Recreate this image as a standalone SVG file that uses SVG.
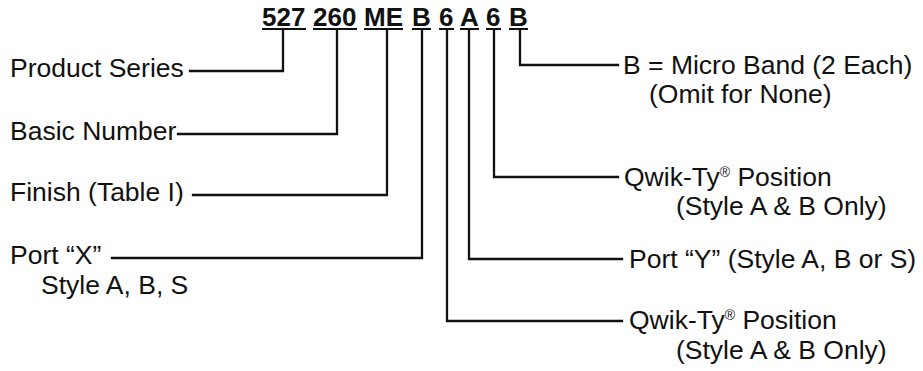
<svg xmlns="http://www.w3.org/2000/svg" width="923" height="371" viewBox="0 0 923 371">
<style>
.lbl{font-family:"Liberation Sans",Arial,sans-serif;font-size:26.5px;fill:#111}
.code{font-family:"Liberation Sans",Arial,sans-serif;font-size:26px;font-weight:bold;fill:#111}
.ln{fill:none;stroke:#111;stroke-width:2.3;stroke-linecap:square}
.ul{stroke:#111;stroke-width:2}
.sup{font-size:14px}
</style>
<rect width="923" height="371" fill="#fff"/>
<g id="code">
<text class="code" x="262" y="26">527</text>
<text class="code" x="313" y="26">260</text>
<text class="code" x="364" y="26">ME</text>
<text class="code" x="412" y="26">B</text>
<text class="code" x="439" y="26">6</text>
<text class="code" x="460" y="26">A</text>
<text class="code" x="486" y="26">6</text>
<text class="code" x="509" y="26">B</text>
<line class="ul" x1="262" y1="29" x2="306" y2="29"/>
<line class="ul" x1="313" y1="29" x2="357" y2="29"/>
<line class="ul" x1="364" y1="29" x2="403" y2="29"/>
<line class="ul" x1="412" y1="29" x2="431" y2="29"/>
<line class="ul" x1="439" y1="29" x2="454" y2="29"/>
<line class="ul" x1="460" y1="29" x2="479" y2="29"/>
<line class="ul" x1="486" y1="29" x2="501" y2="29"/>
<line class="ul" x1="509" y1="29" x2="528" y2="29"/>
</g>
<g id="connectors">
<polyline class="ln" points="283,30 283,71 190,71"/>
<polyline class="ln" points="337,30 337,134 178,134"/>
<polyline class="ln" points="387,30 387,195 193,195"/>
<polyline class="ln" points="422,30 422,258 112,258"/>
<polyline class="ln" points="447,30 447,321 622,321"/>
<polyline class="ln" points="469,30 469,259 622,259"/>
<polyline class="ln" points="494,30 494,177 618,177"/>
<polyline class="ln" points="520,30 520,65 618,65"/>
</g>
<g id="product-series"><text class="lbl" x="10" y="77">Product Series</text></g>
<g id="basic-number"><text class="lbl" x="10" y="140">Basic Number</text></g>
<g id="finish"><text class="lbl" x="10" y="201">Finish (Table I)</text></g>
<g id="port-x"><text class="lbl" x="10" y="264">Port “X”</text><text class="lbl" x="41" y="294">Style A, B, S</text></g>
<g id="micro-band"><text class="lbl" x="623" y="74">B = Micro Band (2 Each)</text><text class="lbl" x="649" y="103">(Omit for None)</text></g>
<g id="qwik-ty-1"><text class="lbl" x="624" y="186">Qwik-Ty<tspan class="sup" dy="-9">®</tspan><tspan dy="9"> Position</tspan></text><text class="lbl" x="676" y="215">(Style A &amp; B Only)</text></g>
<g id="port-y"><text class="lbl" x="629" y="268">Port “Y” (Style A, B or S)</text></g>
<g id="qwik-ty-2"><text class="lbl" x="629" y="329">Qwik-Ty<tspan class="sup" dy="-9">®</tspan><tspan dy="9"> Position</tspan></text><text class="lbl" x="676" y="359">(Style A &amp; B Only)</text></g>
</svg>
